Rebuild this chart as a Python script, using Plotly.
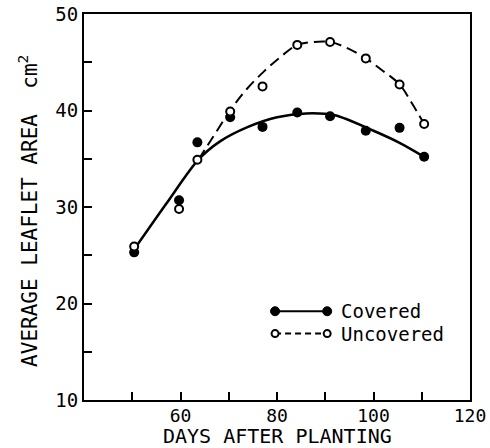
import plotly.graph_objects as go

days = [50.4, 59.7, 63.5, 70.3, 77.0, 84.2, 91.0, 98.4, 105.4, 110.5]
covered = [25.3, 30.7, 36.7, 39.3, 38.3, 39.8, 39.4, 37.9, 38.2, 35.2]
uncovered = [25.9, 29.8, 34.9, 39.9, 42.5, 46.8, 47.1, 45.4, 42.7, 38.6]

# Fitted curves
fit_days_cov = [50.4, 57.0, 63.7, 68.2, 74.0, 80.0, 86.0, 92.0, 100.0, 105.6, 110.5]
fit_cov = [25.6, 30.3, 34.9, 36.8, 38.3, 39.3, 39.7, 39.5, 37.9, 36.6, 35.2]
fit_days_unc = [63.7, 66.8, 70.3, 73.7, 77.2, 80.6, 84.2, 87.5, 91.0, 94.4, 98.4, 101.7, 105.4, 107.9, 110.5]
fit_unc = [34.9, 37.3, 40.0, 42.2, 44.0, 45.5, 46.8, 47.1, 47.1, 46.5, 45.4, 44.2, 42.7, 40.8, 38.6]

x_ticks = [60, 80, 100, 120]
y_ticks = [10, 20, 30, 40, 50]

FONT = "DejaVu Sans Mono"

fig = go.Figure()
fig.add_trace(go.Scatter(x=fit_days_cov, y=fit_cov, mode="lines", line_shape="spline",
                         line=dict(color="black", width=2.5, smoothing=0.8), showlegend=False, hoverinfo="skip"))
fig.add_trace(go.Scatter(x=fit_days_unc, y=fit_unc, mode="lines", line_shape="spline",
                         line=dict(color="black", width=2, dash="11px,6px"), showlegend=False, hoverinfo="skip"))
fig.add_trace(go.Scatter(x=days, y=covered, mode="markers", name="Covered",
                         marker=dict(symbol="circle", size=10, color="black"), showlegend=False))
fig.add_trace(go.Scatter(x=days, y=uncovered, mode="markers", name="Uncovered",
                         marker=dict(symbol="circle", size=8, color="white",
                                     line=dict(color="black", width=2)), showlegend=False))

# Legend drawn manually (markers at both ends of the sample line)
L, R, TX = 0.495, 0.63, 0.66
rows = [(0.230, "Covered", "solid", "black"), (0.172, "Uncovered", "dash", "white")]
for yy, label, dash, fill in rows:
    fig.add_shape(type="line", xref="paper", yref="paper", x0=L, x1=R, y0=yy, y1=yy,
                  line=dict(color="black", width=2, dash="solid" if dash == "solid" else "6px,4px"))
    r = 4.5 if fill == "black" else 3.5
    for xc in (L, R):
        fig.add_shape(type="circle", xref="paper", yref="paper", xsizemode="pixel", ysizemode="pixel",
                      xanchor=xc, yanchor=yy, x0=-r, x1=r, y0=-r, y1=r,
                      fillcolor=fill, line=dict(color="black", width=2 if fill == "white" else 1))
    fig.add_annotation(x=TX, y=yy, xref="paper", yref="paper", text=label, showarrow=False,
                       xanchor="left", yanchor="middle", font=dict(family=FONT, size=19, color="black"))

# Axis titles as annotations
fig.add_annotation(x=0.5, y=-0.0933, xref="paper", yref="paper", text="DAYS AFTER PLANTING",
                   showarrow=False, xanchor="center", yanchor="middle",
                   font=dict(family=FONT, size=20, color="black"))
fig.add_annotation(x=-0.145, y=0.49, xref="paper", yref="paper", text="AVERAGE LEAFLET AREA  cm<sup>2</sup>",
                   showarrow=False, xanchor="center", yanchor="middle", textangle=-90,
                   font=dict(family=FONT, size=21, color="black"))

common = dict(ticks="inside", ticklen=8, tickwidth=2, tickcolor="black",
              showline=True, linecolor="black", linewidth=2, mirror=True, showgrid=False, zeroline=False,
              automargin=False, ticklabeloverflow="allow")
fig.update_xaxes(range=[40, 120], tickvals=x_ticks, ticktext=[str(v) for v in x_ticks],
                 ticklabelstandoff=-2, tickfont=dict(family=FONT, size=18, color="black"),
                 minor=dict(tick0=40, dtick=10, ticks="inside", ticklen=8, tickwidth=2, tickcolor="black"),
                 **common)
fig.update_yaxes(range=[10, 50], tickvals=y_ticks, ticktext=[str(v) for v in y_ticks],
                 tickfont=dict(family=FONT, size=19, color="black"),
                 minor=dict(tick0=10, dtick=5, ticks="inside", ticklen=8, tickwidth=2, tickcolor="black"),
                 **common)

fig.update_layout(width=490, height=448, margin=dict(l=84, r=20, t=14, b=48),
                  paper_bgcolor="white", plot_bgcolor="white", showlegend=False)

# remove the default 8px page margin so the figure sits at the window's top-left corner
fig.write_html("out.html", config={"displayModeBar": False},
               post_script="document.body.style.margin='0';")
